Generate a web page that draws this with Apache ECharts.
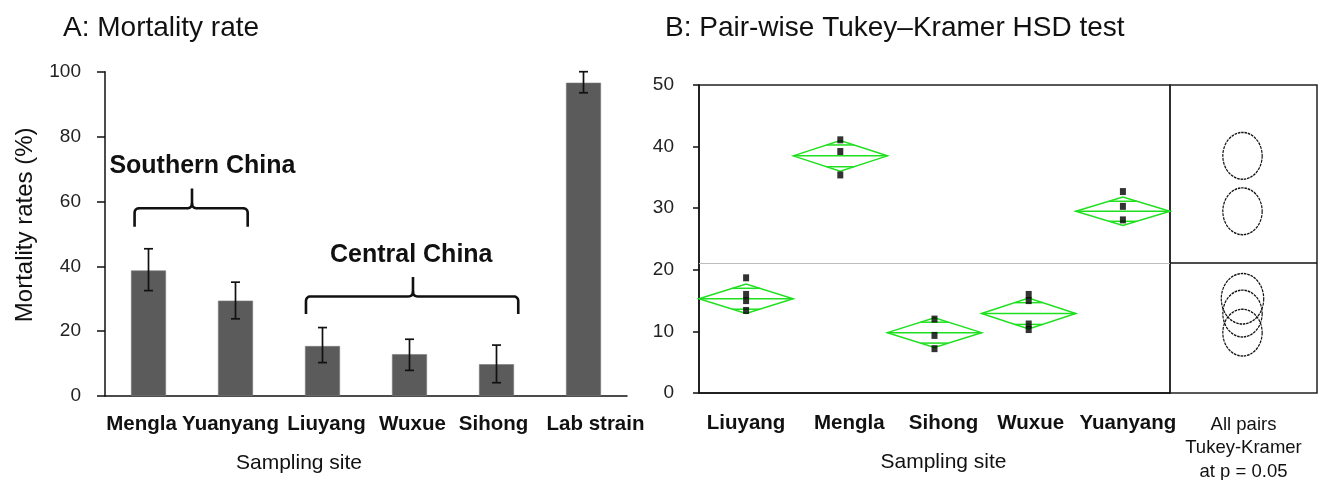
<!DOCTYPE html>
<html><head><meta charset="utf-8">
<script src="https://cdn.jsdelivr.net/npm/echarts@6/dist/echarts.min.js"></script>
<style>html,body{margin:0;padding:0;background:#fff}#c{width:1323px;height:480px}</style>
</head><body><div id="c"></div>
<script>
// ---------- Panel A data ----------
const sitesA = ['Mengla', 'Yuanyang', 'Liuyang', 'Wuxue', 'Sihong', 'Lab strain'];
const mortality = [38.7, 29.4, 15.4, 12.9, 9.8, 96.6];
const errHigh = [45.4, 35.1, 21.1, 17.5, 15.7, 100];
const errLow = [32.5, 23.8, 10.3, 7.9, 4.1, 93.5];
const ticksA = [0, 20, 40, 60, 80, 100];

// ---------- Panel B data ----------
const sitesB = ['Liuyang', 'Mengla', 'Sihong', 'Wuxue', 'Yuanyang'];
const groupMeans = [15.3, 38.5, 9.8, 12.9, 29.5];
const diamondHalf = [2.4, 2.5, 2.4, 2.5, 2.3];
const obsLiuyang = [18.7, 16.0, 15.0, 13.4];
const obsMengla = [41.1, 39.2, 35.4];
const obsSihong = [12.0, 9.35, 7.2];
const obsWuxue = [16.0, 15.0, 11.2, 10.3];
const obsYuanyang = [32.7, 30.3, 28.1];
const grandMean = 21.1;
const circleRadius = [4.1, 3.8, 3.8, 3.8, 3.8];
const ticksB = [0, 10, 20, 30, 40, 50];
const compareLabel = 'All pairs\nTukey-Kramer\nat p = 0.05';

// annotation braces (x in category-band units, y in data units)
const braces = [
  { text: 'Southern China', uFrom: 0.34, uTo: 1.64, uTip: 1.0, yEnd: 52.2, yBar: 57.9, yTip: 64, uText: 1.12, yText: 70.8 },
  { text: 'Central China', uFrom: 2.31, uTo: 4.75, uTip: 3.54, yEnd: 25.3, yBar: 30.7, yTip: 36.7, uText: 3.52, yText: 43.4 }
];
// horizontal nudges of the category labels (px), as in the original figure
const labelShiftA = [-7, -5, 4, 3, -3, 12];
const labelShiftB = [0, 9, 9, 2, 5];

const FONT = '"Liberation Sans", Arial, Helvetica, sans-serif';
const obsAll = [obsLiuyang, obsMengla, obsSihong, obsWuxue, obsYuanyang];
const scatterData = [];
obsAll.forEach((arr, i) => arr.forEach(v => scatterData.push([i, v])));

function shiftRich(shifts, fontSize) {
  const rich = {};
  shifts.forEach((d, i) => {
    rich['s' + i] = {
      fontSize: fontSize, fontWeight: 'bold', color: '#111', fontFamily: FONT,
      padding: d >= 0 ? [0, 0, 0, 2 * d] : [0, -2 * d, 0, 0]
    };
  });
  return rich;
}

const chart = echarts.init(document.getElementById('c'), null, { renderer: 'canvas' });

function curvePts(p0, p1, p2, n) {
  const pts = [];
  for (let k = 0; k <= n; k++) {
    const t = k / n;
    pts.push([(1 - t) * (1 - t) * p0[0] + 2 * (1 - t) * t * p1[0] + t * t * p2[0],
              (1 - t) * (1 - t) * p0[1] + 2 * (1 - t) * t * p1[1] + t * t * p2[1]]);
  }
  return pts;
}

const option = {
  animation: false,
  backgroundColor: '#fff',
  title: [
    { text: 'A: Mortality rate', left: 58, top: 9, textStyle: { fontSize: 28, fontWeight: 'normal', color: '#111', fontFamily: FONT } },
    { text: 'B: Pair-wise Tukey\u2013Kramer HSD test', left: 660, top: 9, textStyle: { fontSize: 28, fontWeight: 'normal', color: '#111', fontFamily: FONT } }
  ],
  grid: [
    { left: 105, top: 71.7, width: 522, height: 324.3, outerBoundsMode: 'none', containLabel: false },
    { left: 699, top: 85, width: 471, height: 308, show: true, borderColor: '#222', borderWidth: 1.5, backgroundColor: 'transparent', outerBoundsMode: 'none', containLabel: false },
    { left: 1170, top: 85, width: 147, height: 308, show: true, borderColor: '#222', borderWidth: 1.5, backgroundColor: 'transparent', outerBoundsMode: 'none', containLabel: false }
  ],
  xAxis: [
    {
      gridIndex: 0, type: 'category', data: sitesA,
      axisLine: { lineStyle: { color: '#111', width: 1.5 } },
      axisTick: { length: 5, lineStyle: { color: '#111', width: 1.5 } },
      axisLabel: {
        interval: 0, fontSize: 20.5, fontWeight: 'bold', color: '#111', margin: 18, fontFamily: FONT,
        formatter: (v, i) => '{s' + i + '|' + v + '}', rich: shiftRich(labelShiftA, 20.5)
      },
      name: 'Sampling site', nameLocation: 'middle', nameGap: 57,
      nameTextStyle: { fontSize: 21, color: '#111', fontFamily: FONT, padding: [0, 134, 0, 0] }
    },
    {
      gridIndex: 1, type: 'category', data: sitesB,
      axisLine: { lineStyle: { color: '#111', width: 1.5 } },
      axisTick: { length: 7, interval: (i) => i > 0, lineStyle: { color: '#111', width: 1.5 } },
      axisLabel: {
        interval: 0, fontSize: 20.5, fontWeight: 'bold', color: '#111', margin: 20, fontFamily: FONT,
        formatter: (v, i) => '{s' + i + '|' + v + '}', rich: shiftRich(labelShiftB, 20.5)
      },
      name: 'Sampling site', nameLocation: 'middle', nameGap: 59,
      nameTextStyle: { fontSize: 21, color: '#111', fontFamily: FONT, padding: [0, 0, 0, 18] }
    },
    {
      gridIndex: 2, type: 'category', data: [compareLabel],
      axisLine: { show: false }, axisTick: { show: false },
      axisLabel: { interval: 0, fontSize: 18.5, lineHeight: 23.5, color: '#111', margin: 20, fontFamily: FONT }
    }
  ],
  yAxis: [
    {
      gridIndex: 0, type: 'value', min: ticksA[0], max: ticksA[ticksA.length - 1], interval: 20,
      splitLine: { show: false },
      axisLine: { show: true, lineStyle: { color: '#111', width: 1.5 } },
      axisTick: { show: true, length: 8, lineStyle: { color: '#111', width: 1.5 } },
      axisLabel: { fontSize: 19, color: '#222', margin: 24, fontFamily: FONT },
      name: 'Mortality rates (%)', nameLocation: 'middle', nameGap: 68, nameRotate: 90,
      nameTextStyle: { fontSize: 24, color: '#111', fontFamily: FONT, padding: [0, 0, 0, 18] }
    },
    {
      gridIndex: 1, type: 'value', min: ticksB[0], max: ticksB[ticksB.length - 1], interval: 10,
      splitLine: { show: false },
      axisLine: { show: true, lineStyle: { color: '#111', width: 1.5 } },
      axisTick: { show: true, length: 6, lineStyle: { color: '#111', width: 1.5 } },
      axisLabel: { fontSize: 19, color: '#222', margin: 25, fontFamily: FONT }
    },
    { gridIndex: 2, type: 'value', min: ticksB[0], max: ticksB[ticksB.length - 1], show: false }
  ],
  series: [
    {
      type: 'bar', xAxisIndex: 0, yAxisIndex: 0, data: mortality, barWidth: 35,
      itemStyle: { color: '#5b5b5b', borderColor: '#7a7a7a', borderWidth: 0.6 }
    },
    {
      type: 'custom', xAxisIndex: 0, yAxisIndex: 0, z: 5,
      data: sitesA.map((s, i) => [i, errLow[i], errHigh[i]]),
      encode: { x: 0, y: [1, 2] },
      renderItem: (params, api) => {
        const i = api.value(0);
        const pLo = api.coord([i, api.value(1)]);
        const pHi = api.coord([i, api.value(2)]);
        const cw = 4.5;
        const st = { stroke: '#111', lineWidth: 1.7 };
        return {
          type: 'group', children: [
            { type: 'line', shape: { x1: pLo[0], y1: pLo[1], x2: pHi[0], y2: pHi[1] }, style: st },
            { type: 'line', shape: { x1: pLo[0] - cw, y1: pLo[1], x2: pLo[0] + cw, y2: pLo[1] }, style: st },
            { type: 'line', shape: { x1: pHi[0] - cw, y1: pHi[1], x2: pHi[0] + cw, y2: pHi[1] }, style: st }
          ]
        };
      }
    },
    {
      type: 'custom', xAxisIndex: 0, yAxisIndex: 0, z: 6, clip: false,
      data: braces.map((b) => [0, b.yTip]),
      renderItem: (params, api) => {
        const b = braces[params.dataIndex];
        const c0 = api.coord([0, 0]);
        const band = api.size([1, 0])[0];
        const ux = (u) => c0[0] - band / 2 + u * band;
        const py = (v) => api.coord([0, v])[1];
        const x0 = ux(b.uFrom), x1 = ux(b.uTo), xm = ux(b.uTip);
        const yE = py(b.yEnd), yB = py(b.yBar), yT = py(b.yTip);
        const r = 5;
        const left = [[x0, yE]].concat(curvePts([x0, yB + r], [x0, yB], [x0 + r, yB], 6))
          .concat(curvePts([xm - r, yB], [xm, yB], [xm, yB - r], 6)).concat([[xm, yT]]);
        const right = [[x1, yE]].concat(curvePts([x1, yB + r], [x1, yB], [x1 - r, yB], 6))
          .concat(curvePts([xm + r, yB], [xm, yB], [xm, yB - r], 6));
        const st = { stroke: '#111', lineWidth: 2.6, fill: null, lineJoin: 'round' };
        return {
          type: 'group', children: [
            { type: 'polyline', shape: { points: left }, style: st },
            { type: 'polyline', shape: { points: right }, style: st },
            {
              type: 'text', x: ux(b.uText), y: py(b.yText),
              style: { text: b.text, fontSize: 25, fontWeight: 'bold', fill: '#111', fontFamily: FONT, align: 'center', verticalAlign: 'middle' }
            }
          ]
        };
      }
    },
    {
      type: 'custom', xAxisIndex: 1, yAxisIndex: 1, z: 3,
      data: sitesB.map((s, i) => [i, groupMeans[i], diamondHalf[i]]),
      encode: { x: 0, y: 1 },
      renderItem: (params, api) => {
        const i = api.value(0), m = api.value(1), h = api.value(2);
        const c = api.coord([i, m]);
        const band = api.size([1, 0])[0];
        const hw = band / 2;
        const top = api.coord([i, m + h])[1], bot = api.coord([i, m - h])[1];
        const o = h / Math.SQRT2;
        const oT = api.coord([i, m + o])[1], oB = api.coord([i, m - o])[1];
        const ow = hw * (1 - 1 / Math.SQRT2);
        const st = { stroke: '#1fe01f', lineWidth: 1.5, fill: null };
        return {
          type: 'group', children: [
            { type: 'polygon', shape: { points: [[c[0] - hw, c[1]], [c[0], top], [c[0] + hw, c[1]], [c[0], bot]] }, style: st },
            { type: 'line', shape: { x1: c[0] - hw, y1: c[1], x2: c[0] + hw, y2: c[1] }, style: st },
            { type: 'line', shape: { x1: c[0] - ow, y1: oT, x2: c[0] + ow, y2: oT }, style: st },
            { type: 'line', shape: { x1: c[0] - ow, y1: oB, x2: c[0] + ow, y2: oB }, style: st }
          ]
        };
      }
    },
    {
      type: 'scatter', xAxisIndex: 1, yAxisIndex: 1, z: 4,
      data: scatterData, symbol: 'rect', symbolSize: [6, 7],
      itemStyle: { color: '#000' },
      markLine: {
        silent: true, symbol: 'none', label: { show: false }, z: 1,
        lineStyle: { color: '#bdbdbd', type: 'solid', width: 1.2 },
        data: [{ yAxis: grandMean }]
      }
    },
    {
      type: 'custom', xAxisIndex: 2, yAxisIndex: 2, z: 3,
      data: sitesB.map((s, i) => [0, groupMeans[i], circleRadius[i]]),
      encode: { x: 0, y: 1 },
      renderItem: (params, api) => {
        const m = api.value(1), r = api.value(2);
        const c = api.coord([0, m]);
        const ry = api.size([0, r])[1];
        return {
          type: 'circle', x: c[0] - 1, y: c[1], scaleX: 0.84,
          shape: { cx: 0, cy: 0, r: ry },
          style: { fill: null, stroke: '#111', lineWidth: 1.4, lineDash: [3, 1], strokeNoScale: true }
        };
      }
    },
    {
      type: 'scatter', xAxisIndex: 2, yAxisIndex: 2, data: [],
      markLine: {
        silent: true, symbol: 'none', label: { show: false },
        lineStyle: { color: '#111', type: 'solid', width: 1.6 },
        data: [{ yAxis: grandMean }]
      }
    }
  ]
};
chart.setOption(option);
</script>
</body></html>
